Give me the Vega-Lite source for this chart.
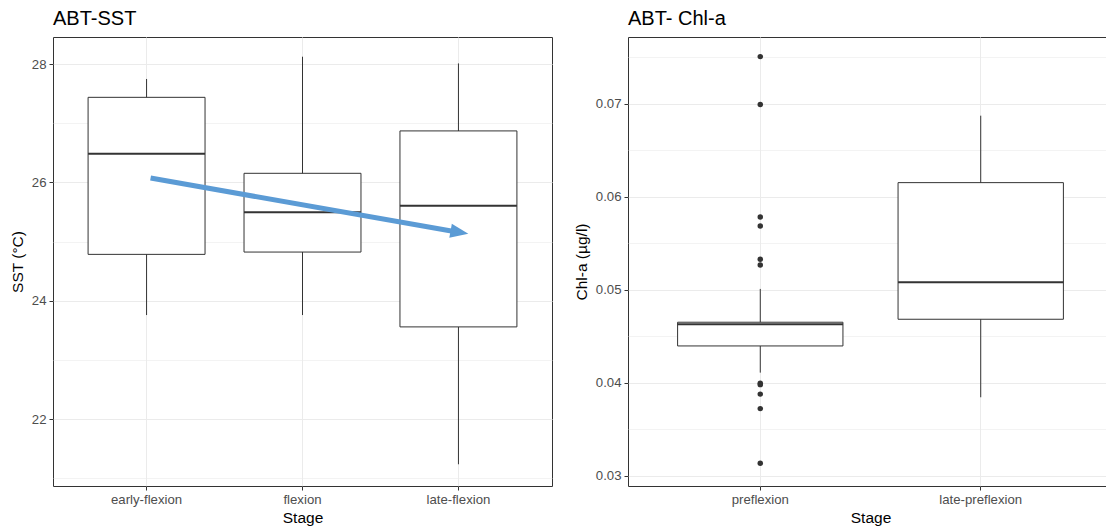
{
  "$schema": "https://vega.github.io/schema/vega-lite/v6.json",
  "background": "white",
  "padding": {"left": 9, "top": 8, "right": 0, "bottom": 0},
  "spacing": 20,
  "config": {
    "font": "Liberation Sans",
    "view": {"stroke": "#333333", "strokeWidth": 1},
    "axis": {
      "domain": false,
      "grid": true,
      "gridColor": "#EBEBEB",
      "tickColor": "#333333",
      "tickSize": 4,
      "labelColor": "#4D4D4D",
      "labelFontSize": 13.2,
      "labelPadding": 3,
      "labelOverlap": false,
      "titleFontSize": 15.5,
      "titleFontWeight": "normal",
      "titleColor": "#000000"
    },
    "axisX": {"titlePadding": 5},
    "axisY": {"titlePadding": 6},
    "title": {"fontSize": 20, "fontWeight": "normal", "anchor": "start", "frame": "group", "color": "#000000", "offset": 8}
  },
  "datasets": {
    "sstBoxes": [
      {"stage": "early-flexion", "lower": 23.76, "q1": 24.785, "median": 26.485, "q3": 27.437, "upper": 27.747},
      {"stage": "flexion", "lower": 23.76, "q1": 24.824, "median": 25.495, "q3": 26.154, "upper": 28.123},
      {"stage": "late-flexion", "lower": 21.24, "q1": 23.56, "median": 25.607, "q3": 26.87, "upper": 28.01}
    ],
    "trendArrow": [
      {"from": "early-flexion", "to": "late-flexion", "startSST": 26.074, "endSST": 25.158}
    ],
    "chlBoxes": [
      {"stage": "preflexion", "lower": 0.04111, "q1": 0.04398, "median": 0.04631, "q3": 0.04653, "upper": 0.05011},
      {"stage": "late-preflexion", "lower": 0.03846, "q1": 0.04685, "median": 0.05083, "q3": 0.06154, "upper": 0.06874}
    ],
    "chlOutliers": [
      {"stage": "preflexion", "value": 0.07509},
      {"stage": "preflexion", "value": 0.06993},
      {"stage": "preflexion", "value": 0.05785},
      {"stage": "preflexion", "value": 0.05688},
      {"stage": "preflexion", "value": 0.0533},
      {"stage": "preflexion", "value": 0.05269},
      {"stage": "preflexion", "value": 0.03998},
      {"stage": "preflexion", "value": 0.03982},
      {"stage": "preflexion", "value": 0.03880},
      {"stage": "preflexion", "value": 0.03724},
      {"stage": "preflexion", "value": 0.03136}
    ]
  },
  "hconcat": [
    {
      "title": "ABT-SST",
      "width": 499,
      "height": 449,
      "layer": [
        {
          "data": {"name": "sstBoxes"},
          "mark": {"type": "rule", "color": "#333333", "strokeWidth": 1},
          "encoding": {
            "x": {
              "field": "stage", "type": "nominal",
              "sort": ["early-flexion", "flexion", "late-flexion"],
              "scale": {"paddingInner": 0, "paddingOuter": 0.1},
              "axis": {"title": "Stage", "labelAngle": 0}
            },
            "y": {
              "field": "lower", "type": "quantitative",
              "scale": {"domain": [20.873, 28.456], "nice": false, "zero": false},
              "axis": {
                "title": "SST (°C)",
                "format": "d",
                "values": [21, 22, 23, 24, 25, 26, 27, 28],
                "labelExpr": "datum.value % 2 === 0 ? datum.label : ''",
                "tickOpacity": {"condition": {"test": "datum.value % 2 === 0", "value": 1}, "value": 0},
                "gridWidth": {"condition": {"test": "datum.value % 2 === 0", "value": 1}, "value": 0.6}
              }
            },
            "y2": {"field": "upper"}
          }
        },
        {
          "data": {"name": "sstBoxes"},
          "mark": {"type": "bar", "fill": "white", "stroke": "#333333", "strokeWidth": 1, "width": {"band": 0.75}},
          "encoding": {
            "x": {"field": "stage", "type": "nominal", "sort": ["early-flexion", "flexion", "late-flexion"]},
            "y": {"field": "q1", "type": "quantitative"},
            "y2": {"field": "q3"}
          }
        },
        {
          "data": {"name": "sstBoxes"},
          "mark": {"type": "bar", "fill": "white", "stroke": "#333333", "strokeWidth": 2, "width": {"band": 0.75}},
          "encoding": {
            "x": {"field": "stage", "type": "nominal", "sort": ["early-flexion", "flexion", "late-flexion"]},
            "y": {"field": "median", "type": "quantitative"},
            "y2": {"field": "median"}
          }
        },
        {
          "data": {"name": "trendArrow"},
          "mark": {"type": "rule", "color": "#5B9BD5", "strokeWidth": 5, "xOffset": 4, "strokeCap": "butt"},
          "encoding": {
            "x": {"field": "from", "type": "nominal", "sort": ["early-flexion", "flexion", "late-flexion"]},
            "x2": {"field": "to"},
            "y": {"field": "startSST", "type": "quantitative"},
            "y2": {"field": "endSST"}
          }
        },
        {
          "data": {"name": "trendArrow"},
          "mark": {"type": "point", "shape": "M-1,-0.8L1,0L-1,0.8Z", "size": 324, "angle": 10, "filled": true, "color": "#5B9BD5", "opacity": 1, "xOffset": 1},
          "encoding": {
            "x": {"field": "to", "type": "nominal", "sort": ["early-flexion", "flexion", "late-flexion"]},
            "y": {"field": "endSST", "type": "quantitative"}
          }
        }
      ]
    },
    {
      "title": "ABT- Chl-a",
      "width": 485,
      "height": 449,
      "layer": [
        {
          "data": {"name": "chlBoxes"},
          "mark": {"type": "rule", "color": "#333333", "strokeWidth": 1},
          "encoding": {
            "x": {
              "field": "stage", "type": "nominal",
              "sort": ["preflexion", "late-preflexion"],
              "scale": {"paddingInner": 0, "paddingOuter": 0.1},
              "axis": {"title": "Stage", "labelAngle": 0}
            },
            "y": {
              "field": "lower", "type": "quantitative",
              "scale": {"domain": [0.02892, 0.0772], "nice": false, "zero": false},
              "axis": {
                "title": "Chl-a (µg/l)",
                "format": ".2f",
                "values": [0.03, 0.035, 0.04, 0.045, 0.05, 0.055, 0.06, 0.065, 0.07, 0.075],
                "labelExpr": "abs(round(datum.value * 100) - datum.value * 100) < 0.01 ? datum.label : ''",
                "tickOpacity": {"condition": {"test": "abs(round(datum.value * 100) - datum.value * 100) < 0.01", "value": 1}, "value": 0},
                "gridWidth": {"condition": {"test": "abs(round(datum.value * 100) - datum.value * 100) < 0.01", "value": 1}, "value": 0.6}
              }
            },
            "y2": {"field": "upper"}
          }
        },
        {
          "data": {"name": "chlBoxes"},
          "mark": {"type": "bar", "fill": "white", "stroke": "#333333", "strokeWidth": 1, "width": {"band": 0.75}},
          "encoding": {
            "x": {"field": "stage", "type": "nominal", "sort": ["preflexion", "late-preflexion"]},
            "y": {"field": "q1", "type": "quantitative"},
            "y2": {"field": "q3"}
          }
        },
        {
          "data": {"name": "chlBoxes"},
          "mark": {"type": "bar", "fill": "white", "stroke": "#333333", "strokeWidth": 2, "width": {"band": 0.75}},
          "encoding": {
            "x": {"field": "stage", "type": "nominal", "sort": ["preflexion", "late-preflexion"]},
            "y": {"field": "median", "type": "quantitative"},
            "y2": {"field": "median"}
          }
        },
        {
          "data": {"name": "chlOutliers"},
          "mark": {"type": "point", "shape": "circle", "filled": true, "color": "#333333", "opacity": 1, "size": 30},
          "encoding": {
            "x": {"field": "stage", "type": "nominal", "sort": ["preflexion", "late-preflexion"]},
            "y": {"field": "value", "type": "quantitative"}
          }
        }
      ]
    }
  ]
}
